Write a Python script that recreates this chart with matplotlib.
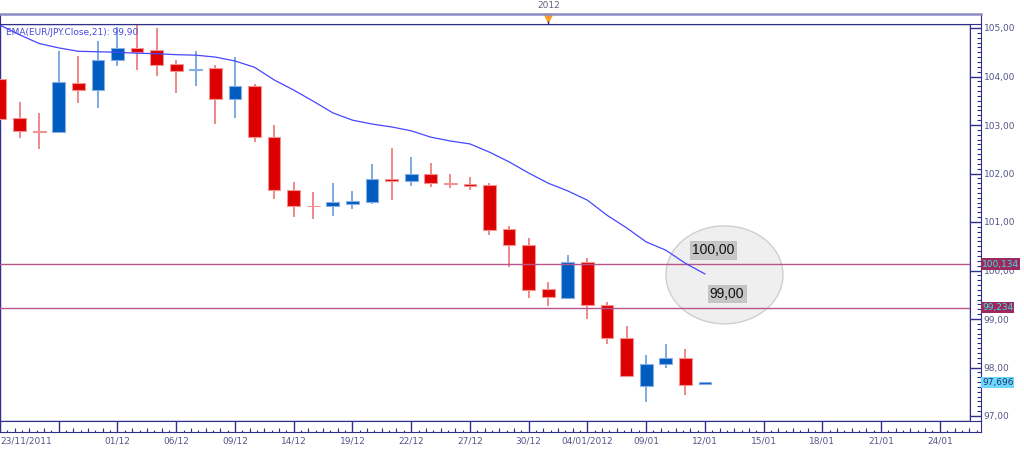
import numpy as np
import matplotlib
matplotlib.use('Agg')
import matplotlib.pyplot as plt
from matplotlib.patches import Ellipse
from matplotlib.ticker import MultipleLocator, FuncFormatter, FixedLocator
import matplotlib.transforms as mtransforms

# daily EUR/JPY candles, 23/11/2011 -> 12/01/2012 (trading days only)
opens = [103.94, 103.14, 102.87, 102.86, 103.87, 103.72, 104.34, 104.58, 104.54, 104.25,
         104.13, 104.17, 103.54, 103.80, 102.75, 101.67, 101.34, 101.32, 101.38, 101.41,
         101.88, 101.85, 101.98, 101.81, 101.79, 101.76, 100.85, 100.53, 99.61, 99.44,
         100.17, 99.29, 98.61, 97.62, 98.07, 98.19, 97.66]
highs = [104.13, 103.47, 103.25, 104.53, 104.42, 104.74, 105.03, 105.20, 104.99, 104.34,
         104.53, 104.24, 104.41, 103.85, 102.99, 101.82, 101.62, 101.81, 101.64, 102.19,
         102.53, 102.35, 102.22, 101.99, 101.92, 101.80, 100.92, 100.68, 99.76, 100.31,
         100.25, 99.36, 98.86, 98.26, 98.48, 98.38, 97.71]
lows = [103.08, 102.73, 102.51, 102.85, 103.46, 103.36, 104.22, 104.13, 104.01, 103.67,
        103.80, 103.02, 103.15, 102.64, 101.47, 101.10, 101.06, 101.13, 101.27, 101.38,
        101.45, 101.74, 101.73, 101.70, 101.65, 100.73, 100.07, 99.44, 99.27, 99.41,
        99.01, 98.48, 97.82, 97.28, 97.98, 97.43, 97.65]
closes = [103.13, 102.88, 102.85, 103.88, 103.72, 104.35, 104.58, 104.51, 104.24, 104.12,
          104.16, 103.53, 103.80, 102.75, 101.66, 101.33, 101.32, 101.41, 101.43, 101.89,
          101.85, 101.98, 101.80, 101.78, 101.75, 100.84, 100.53, 99.60, 99.45, 100.17,
          99.29, 98.60, 97.82, 98.07, 98.19, 97.64, 97.70]

# EMA(21) of the close
ema = [105.06, 104.86, 104.68, 104.59, 104.52, 104.51, 104.50, 104.48, 104.47, 104.45,
       104.44, 104.40, 104.32, 104.19, 103.93, 103.72, 103.49, 103.25, 103.10, 103.02,
       102.96, 102.88, 102.75, 102.67, 102.61, 102.44, 102.24, 102.01, 101.80, 101.64,
       101.45, 101.14, 100.88, 100.59, 100.42, 100.15, 99.93]

levels = [100.134, 99.234]
last_close = 97.696

date_ticks = [0, 3, 6, 9, 12, 15, 18, 21, 24, 27, 30, 33, 36, 39, 42, 45, 48]
date_labels = ['23/11/2011', '', '01/12', '06/12', '09/12', '14/12', '19/12', '22/12',
               '27/12', '30/12', '04/01/2012', '09/01', '12/01', '15/01', '18/01',
               '21/01', '24/01']
year_pos = 28  # 02/01/2012

navy = '#30308a'
lab_col = '#55558a'
plt.rcParams['font.family'] = ['DejaVu Sans']

W, H = 1024., 450.
slot = 19.58  # px per candle
ytop, ybot = 23.7, 421.
p_top = 105 + 4.3 / 48.5
p_bot = 105 - (ybot - 28) / 48.5

fig = plt.figure(figsize=(10.24, 4.5), dpi=100)

ax = fig.add_axes([0, 1 - ybot / H, 970 / W, (ybot - ytop) / H])
ax.set_xlim(0, 970 / slot)
ax.set_ylim(p_bot, p_top)
ax.set_xticks([])
ax.set_yticks([])
for s in ax.spines.values():
    s.set_color(navy)
    s.set_linewidth(1)

x = np.arange(len(opens))
o = np.array(opens); c = np.array(closes)
up = c >= o
body_lo = np.minimum(o, c)
body_h = np.maximum(np.abs(c - o), 0.02)

wick_col = np.where(up, '#5a94d8', '#ea6a6a')
ax.vlines(x, lows, highs, colors=wick_col, lw=1.1, zorder=2)
ax.bar(x[up], body_h[up], bottom=body_lo[up], width=0.65, color='#005cbf',
       edgecolor='#86b0e4', lw=0.8, zorder=3)
ax.bar(x[~up], body_h[~up], bottom=body_lo[~up], width=0.65, color='#dd0000',
       edgecolor='#f29494', lw=0.8, zorder=3)

ax.plot(x, ema, color='#4646ff', lw=0.9, zorder=4)
for lv in levels:
    ax.axhline(lv, color='#b8568a', lw=1, zorder=3.5)

ax.text(0.006, 0.988, 'EMA(EUR/JPY.Close,21): 99,90', transform=ax.transAxes,
        va='top', ha='left', color='#4848e0', fontsize=6.5, zorder=5)

# circled annotation
ax.add_patch(Ellipse((37.0, 99.91), 5.98, 2.02, fc='#efefef', ec='#cfcfcf',
                     lw=1, zorder=1))
box = dict(boxstyle='square,pad=0.12', fc='#c6c6c6', ec='#b8b8b8', lw=0.5)
ax.text(36.4, 100.42, '100,00', ha='center', va='center', fontsize=10,
        family='Liberation Sans', color='#111111', bbox=box, zorder=5)
ax.text(37.13, 99.52, '99,00', ha='center', va='center', fontsize=10,
        family='Liberation Sans', color='#111111', bbox=box, zorder=5)

# right price strip
ax_r = fig.add_axes([970 / W, 1 - ybot / H, 11 / W, (ybot - ytop) / H])
ax_r.set_xticks([])
for k in ['top', 'bottom']:
    ax_r.spines[k].set_visible(False)
for k in ['left', 'right']:
    ax_r.spines[k].set_color(navy)
ax_r.yaxis.tick_right()
ax_r.yaxis.set_major_locator(MultipleLocator(1))
ax_r.yaxis.set_minor_locator(MultipleLocator(0.1))
ax_r.yaxis.set_major_formatter(FuncFormatter(lambda v, p: f'{v:.2f}'.replace('.', ',')))
ax_r.tick_params(axis='y', which='major', direction='in', length=7.9, width=1,
                 color=navy, labelsize=6.5, labelcolor=lab_col, pad=2)
ax_r.tick_params(axis='y', which='minor', direction='in', length=2.8, width=0.8,
                 color=navy)
ax_r.set_ylim(p_bot, p_top)

tr = mtransforms.blended_transform_factory(ax_r.transAxes, ax_r.transData)
for lv in levels:
    ax_r.text(1.08, lv, f'{lv:.3f}'.replace('.', ','), transform=tr, ha='left',
              va='center', fontsize=6.5, color='#3ee0e0', zorder=6,
              bbox=dict(boxstyle='square,pad=0.12', fc='#9c2a5e', ec='none'))
ax_r.text(1.08, last_close, f'{last_close:.3f}'.replace('.', ','), transform=tr,
          ha='left', va='center', fontsize=6.5, color='#1a3a6a', zorder=6,
          bbox=dict(boxstyle='square,pad=0.12', fc='#6fd6ff', ec='none'))

# bottom date strip
ax_b = fig.add_axes([0, 1 - 432 / H, 981 / W, 11 / H])
ax_b.set_xlim(0, 981 / slot)
ax_b.set_ylim(0, 1)
ax_b.set_yticks([])
for s in ax_b.spines.values():
    s.set_color(navy)
ax_b.xaxis.set_major_locator(FixedLocator(date_ticks))
ax_b.set_xticklabels(date_labels)
ax_b.get_xticklabels()[0].set_ha('left')
ax_b.xaxis.set_minor_locator(MultipleLocator(0.375))
ax_b.tick_params(axis='x', which='major', direction='in', length=7.9, width=1,
                 color=navy, labelsize=6.5, labelcolor=lab_col, pad=3)
ax_b.tick_params(axis='x', which='minor', direction='in', length=1.5, width=0.8,
                 color=navy)
mid = np.arange(0.75, 981 / slot, 0.75)
mid = mid[np.abs(mid / 3 - np.round(mid / 3)) > 1e-6]
ax_b.vlines(mid, 0, 0.4, colors=navy, lw=0.8)

# top strip with the year marker
ax_t = fig.add_axes([0, 1 - ytop / H, 981 / W, (ytop - 14) / H])
ax_t.set_xlim(0, 981 / slot)
ax_t.set_ylim(0, 1)
ax_t.set_xticks([]); ax_t.set_yticks([])
for k in ['left', 'right', 'bottom']:
    ax_t.spines[k].set_color(navy)
ax_t.spines['top'].set_color('#8c8cc4')
ax_t.spines['top'].set_linewidth(1.8)
ax_t.plot(year_pos, 0.62, marker='v', color='#f5a020', ms=6, clip_on=False)
ax_t.vlines(year_pos, 0, 0.25, colors=navy, lw=1)
tt = mtransforms.blended_transform_factory(ax_t.transData, ax_t.transAxes)
ax_t.text(year_pos, 1.85, '2012', transform=tt, ha='center', va='center',
          fontsize=6.5, color='#606080')

fig.savefig('out.png', dpi=100)
